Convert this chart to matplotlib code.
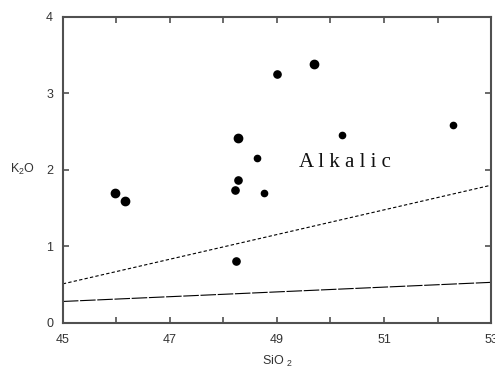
import matplotlib.pyplot as plt
from matplotlib.ticker import FixedLocator

# sample analyses
sio2 = [45.97, 46.16, 48.21, 48.28, 48.27, 48.23, 48.62, 48.76, 49.01, 49.69, 50.22, 52.28]
k2o = [1.70, 1.59, 1.74, 1.87, 2.42, 0.81, 2.15, 1.70, 3.26, 3.38, 2.46, 2.59]
marker_size = [6, 6, 5.2, 5.2, 6, 5.2, 4.5, 4.5, 5.2, 6, 4.5, 4.5]

# alkalic / tholeiitic dividing lines
line_x = [45, 53]
upper_y = [0.51, 1.80]
lower_y = [0.28, 0.53]

x_ticks = list(range(45, 54))
x_labels = ['45', '', '47', '', '49', '', '51', '', '53']
y_ticks = [0, 1, 2, 3, 4]

plt.rcParams['font.family'] = ['Liberation Sans', 'DejaVu Sans']

fig = plt.figure(figsize=(4.95, 3.69), dpi=100)
ax = fig.add_axes([0.127, 0.125, 0.865, 0.829])

ax.plot(line_x, upper_y, color='black', lw=0.8, dashes=(3, 2))
ax.plot(line_x, lower_y, color='black', lw=0.8, dashes=(14, 1.5))

for x, y, s in zip(sio2, k2o, marker_size):
    ax.plot(x, y, 'o', color='black', ms=s, mec='black')

ax.text(49.42, 2.1, 'A l k a l i c', family='Liberation Serif', fontsize=15,
        ha='left', va='center', color='#111111')

ax.set_xlim(45, 53)
ax.set_ylim(0, 4)
ax.set_xticks(x_ticks)
ax.set_xticklabels(x_labels)
ax.xaxis.set_minor_locator(FixedLocator([50]))
ax.set_yticks(y_ticks)

grey = '#505050'
for sp in ax.spines.values():
    sp.set_color(grey)
    sp.set_linewidth(1.5)
ax.tick_params(which='major', direction='in', length=4, width=1.2, color=grey,
               top=True, right=True, labelsize=9, labelcolor='#333333')
ax.tick_params(axis='x', which='major', pad=8)
ax.tick_params(axis='y', which='major', pad=7)
ax.tick_params(which='minor', direction='in', length=14, width=1.2, color=grey,
               top=True, bottom=True)

ax.set_xlabel('SiO $_\\mathregular{2}$', fontsize=9, color='#333333', labelpad=6)
ax.set_ylabel('K$_\\mathregular{2}$O', fontsize=9, color='#333333', rotation=0,
              ha='center', va='center')
ax.yaxis.set_label_coords(-0.095, 0.5)

fig.savefig('out.png', dpi=100)
